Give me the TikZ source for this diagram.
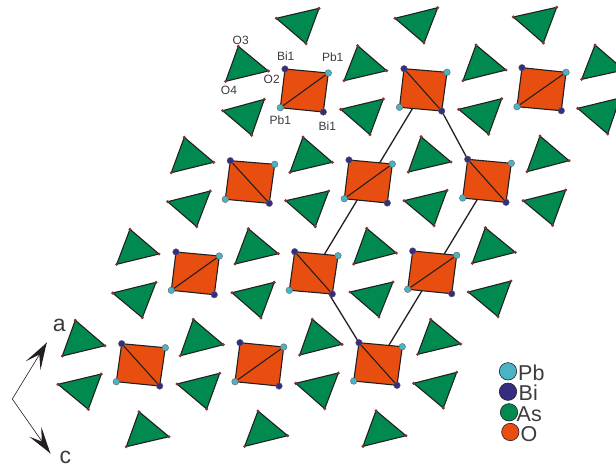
\documentclass[tikz,border=0pt]{standalone}
\usepackage{fontspec}
\setmainfont{Liberation Sans}
\definecolor{asgreen}{HTML}{008A50}
\definecolor{oorange}{HTML}{E84E0F}
\definecolor{pbcyan}{HTML}{4BB4C4}
\definecolor{bipurple}{HTML}{352D82}
\definecolor{inkline}{HTML}{231F20}
\definecolor{vertexdot}{HTML}{7A3B32}
\definecolor{labelgrey}{HTML}{3C3C3E}
\tikzset{
  polyedge/.style={draw=inkline,line width=1.1pt,line join=round},
  tetra/.style={polyedge,fill=asgreen},
  octa/.style={polyedge,fill=oorange},
  celledge/.style={draw=inkline,line width=1.3pt},
  overt/.style={fill=vertexdot,draw=none},
  pbatom/.style={fill=pbcyan,draw=inkline!70,line width=0.4pt},
  biatom/.style={fill=bipurple,draw=inkline!70,line width=0.4pt},
  smalllabel/.style={text=labelgrey,font=\fontsize{12}{12}\selectfont,inner sep=0pt},
  biglabel/.style={text=labelgrey,font=\fontsize{23}{23}\selectfont,inner sep=0pt},
  legendlabel/.style={text=labelgrey,font=\fontsize{21.5}{21.5}\selectfont,inner sep=0pt,anchor=base west},
  axisline/.style={draw=inkline,line width=0.6pt},
  legendatom/.style={draw=inkline,line width=0.6pt}
}
% triangle: three corners
\newcommand{\tetrahedron}[3]{%
  \draw[tetra] (#1) -- (#2) -- (#3) -- cycle;
  \fill[overt] (#1) circle (1.7);
  \fill[overt] (#2) circle (1.7);
  \fill[overt] (#3) circle (1.7);
}
% square: TL(Bi) TR(Pb) BR(Bi) BL(Pb)
\newcommand{\octaA}[4]{% diagonal BL-TR
  \draw[octa] (#1) -- (#2) -- (#3) -- (#4) -- cycle;
  \draw[polyedge] (#4) -- (#2);
  \filldraw[biatom] (#1) circle (3.3);
  \filldraw[pbatom] (#2) circle (3.3);
  \filldraw[biatom] (#3) circle (3.3);
  \filldraw[pbatom] (#4) circle (3.3);
}
\newcommand{\octaB}[4]{% diagonal TL-BR
  \draw[octa] (#1) -- (#2) -- (#3) -- (#4) -- cycle;
  \draw[polyedge] (#1) -- (#3);
  \filldraw[biatom] (#1) circle (3.3);
  \filldraw[pbatom] (#2) circle (3.3);
  \filldraw[biatom] (#3) circle (3.3);
  \filldraw[pbatom] (#4) circle (3.3);
}
\begin{document}
\begin{tikzpicture}[x=1pt,y=-1pt]
\useasboundingbox (0,0) rectangle (616,469);
\clip (0,0) rectangle (616,469);

% unit cell
\coordinate (cellA) at (414,106);
\coordinate (cellB) at (324,255);
\coordinate (cellC) at (441.7,111);
\coordinate (cellD) at (467.7,159.3);
\coordinate (cellE) at (480,195);
\coordinate (cellF) at (386,350);
\coordinate (cellG) at (329,294);
\coordinate (cellH) at (359,342.7);
\draw[celledge] (cellA) -- (cellB);
\draw[celledge] (cellC) -- (cellD);
\draw[celledge] (cellE) -- (cellF);
\draw[celledge] (cellG) -- (cellH);

% tetrahedra, row by row
\tetrahedron{276.3,18.3}{319,8.3}{306,43.7}
\tetrahedron{395,18.3}{437.7,7.7}{424,43}
\tetrahedron{513.3,17}{556.7,7.3}{543.3,43}

\tetrahedron{238.3,46.3}{268.3,71}{225.7,81.3}
\tetrahedron{357.7,45.7}{386.7,70.7}{344,80.7}
\tetrahedron{476,45}{506,70}{463,80.7}
\tetrahedron{595,45}{624,70}{581.7,79.3}

\tetrahedron{222.7,110.7}{264.3,99.3}{251.7,135.3}
\tetrahedron{340.7,109.3}{383.3,99}{370,134.7}
\tetrahedron{458.7,109.3}{501.7,98.7}{488.7,134.3}
\tetrahedron{577.7,108.3}{620,98}{607.7,134}

\tetrahedron{184.3,137.3}{213.7,162.3}{171.3,172.7}
\tetrahedron{303,137}{332.3,162.3}{290,172.3}
\tetrahedron{421,136.7}{451,162}{408.3,172}
\tetrahedron{540,136}{569,160.7}{527,171.7}

\tetrahedron{167.7,201.7}{210.3,191}{196.7,226.7}
\tetrahedron{285.7,200.7}{328.7,191}{315.3,226.7}
\tetrahedron{404,200.7}{447,190.3}{434,225.7}
\tetrahedron{523,200.7}{565.7,190}{552.7,225.3}

\tetrahedron{130,229.3}{159,254}{116.7,264.3}
\tetrahedron{248.3,228.7}{278.3,253.7}{235,264}
\tetrahedron{366.7,228.3}{396.3,253}{353.7,264}
\tetrahedron{485.3,227.7}{515.3,252.3}{472.3,263.3}

\tetrahedron{112.7,293}{156,282.3}{142.3,317.7}
\tetrahedron{232,292.7}{274.3,282.3}{261,318}
\tetrahedron{350,292}{393,282}{379,317}
\tetrahedron{468.3,292}{511,281}{498,316.7}

\tetrahedron{75.3,320.3}{105,345.7}{62.3,356}
\tetrahedron{193.3,319.3}{223.3,344.7}{180.3,355.7}
\tetrahedron{312.3,319.3}{342,344.3}{299.7,355}
\tetrahedron{430.7,319.3}{460.7,344}{417.7,354.3}

\tetrahedron{58,384.3}{101.3,374}{88.3,409.3}
\tetrahedron{177,384}{219.7,373.3}{206.7,409}
\tetrahedron{295.7,383.3}{338.3,373}{324.7,408.7}
\tetrahedron{413.7,383.3}{456.7,372.3}{443.3,408}

\tetrahedron{139,411.7}{169,436.7}{126.3,446.7}
\tetrahedron{258,411}{287.7,435.7}{244.7,446.3}
\tetrahedron{376,410.7}{406,435.7}{363,446.3}

% octahedra
\octaA{285,69}{328.3,73}{323.3,112}{280.3,107.7}
\octaB{404,68.7}{447,72.3}{441.7,111}{399.5,107.3}
\octaA{522,67.7}{566,72.3}{561.3,110.7}{517,106.7}

\octaB{230.3,160.7}{274.7,164.3}{269.3,203.3}{225.3,199.3}
\octaA{349,160}{392.3,164}{387.3,203}{344.3,198.7}
\octaB{467.7,159.3}{511.3,163.3}{506,202.3}{462.7,198}

\octaA{176,252}{219.3,256}{214.3,294.7}{171.3,290.3}
\octaB{294.7,251.7}{338,255.7}{332.3,294}{289.3,290.3}
\octaA{412.7,251}{456.7,255.3}{451.7,293.7}{407.7,289.3}

\octaB{121.7,343.7}{165.3,347.7}{159.7,386}{116.3,381.7}
\octaA{240,342.7}{283.7,347}{279,386}{235,381.7}
\octaB{359,342.7}{402.3,346.7}{397,385.3}{353.7,381}

% atom labels
\node[smalllabel] (lbiA) at (285.7,55.7) {Bi1};
\node[smalllabel] (lpbA) at (332.7,57.7) {Pb1};
\node[smalllabel] (lothree) at (240.7,40.3) {O3};
\node[smalllabel] (lotwo) at (271.7,79) {O2};
\node[smalllabel] (lofour) at (229,90.7) {O4};
\node[smalllabel] (lpbB) at (280.3,120.7) {Pb1};
\node[smalllabel] (lbiB) at (327.3,125.7) {Bi1};

% axes
\coordinate (axO) at (12.3,399);
\coordinate (axA) at (46.7,342.7);
\coordinate (axC) at (50.3,453.3);
\draw[axisline] (axA) -- (axO) -- (axC);
\fill[inkline] (axA) -- (40.5,370) -- (39.3,354.5) -- (25.7,361.3) -- cycle;
\fill[inkline] (axC) -- (29.3,436.7) -- (41.7,441.5) -- (41.3,426.7) -- cycle;
\node[biglabel] (laba) at (59.3,325) {a};
\node[biglabel] (labc) at (65.3,457.5) {c};

% legend
\filldraw[legendatom,fill=pbcyan] (508,371.3) circle (8.7);
\filldraw[legendatom,fill=bipurple] (508,391.7) circle (8.7);
\filldraw[legendatom,fill=asgreen] (509,412.3) circle (8.7);
\filldraw[legendatom,fill=oorange] (510.3,432) circle (8.7);
\node[legendlabel] (lpb) at (518,380.5) {Pb};
\node[legendlabel] (lbi) at (518.5,400) {Bi};
\node[legendlabel] (las) at (516.5,421) {As};
\node[legendlabel] (lo) at (520.5,441) {O};
\end{tikzpicture}
\end{document}
